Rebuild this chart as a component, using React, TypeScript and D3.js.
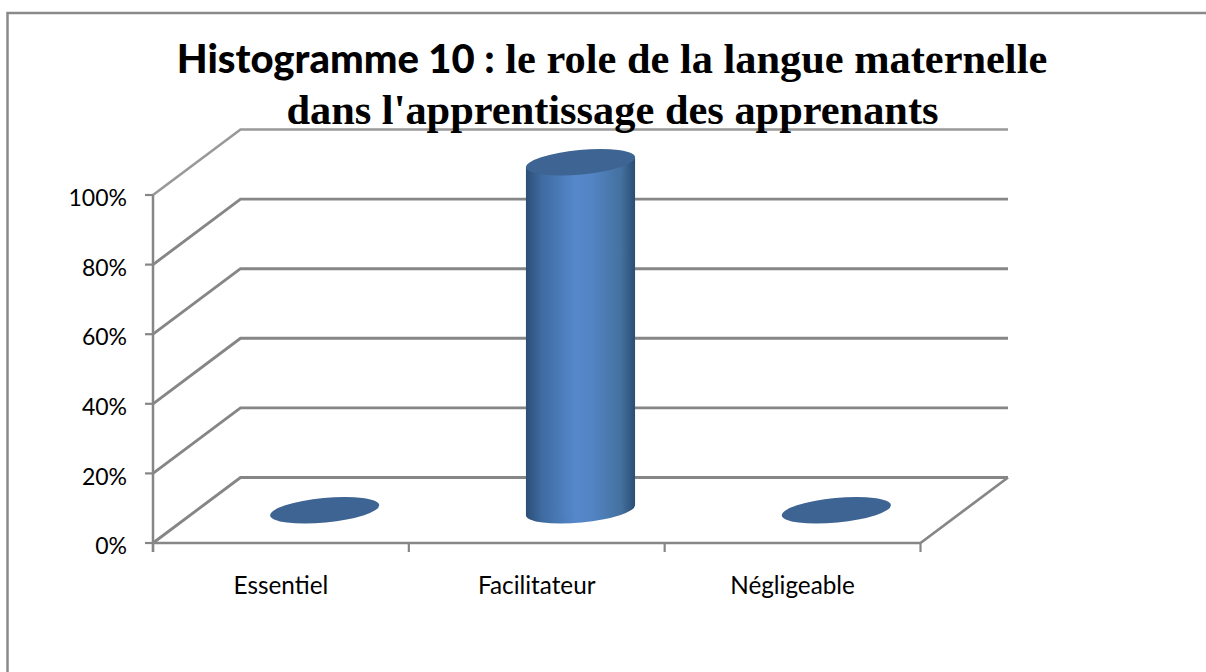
import React from "react";
import * as d3 from "d3";

const categories = ["Essentiel", "Facilitateur", "Négligeable"];
const values = [0, 100, 0];
const yTicks = [0, 20, 40, 60, 80, 100];
const titleLine1Sans = "Histogramme 10 :";
const titleLine1Serif = " le role de la langue maternelle";
const titleLine2 = "dans l'apprentissage des apprenants";

const W = 1206;
const H = 672;
const x0 = 153;
const x1 = 920.5;
const yBottom = 543;
const yTop = 195;
const depthX = 87.5;
const depthY = -65.5;
const GRID = "#868686";

const xScale = d3.scaleBand<string>().domain(categories).range([x0, x1]).paddingInner(0).paddingOuter(0);
const yScale = d3.scaleLinear().domain([0, 100]).range([yBottom, yTop]);
const xTicks = [...categories.map((c) => xScale(c) as number), x1];

const rx = 54.8;
const ry = 12.3;
const tilt = -5.5;
const rad = (tilt * Math.PI) / 180;
const halfW = Math.sqrt(rx * rx * Math.cos(rad) ** 2 + ry * ry * Math.sin(rad) ** 2);
const edgeDy = Math.abs(((rx * rx - ry * ry) * Math.sin(rad) * Math.cos(rad)) / halfW);

export default function App() {
  return (
    <svg width={W} height={H} viewBox={`0 0 ${W} ${H}`} style={{ position: "absolute", left: 0, top: 0, background: "#fff" }}>
      <defs>
        {categories.map((c, i) => {
          const cx = (xScale(c) as number) + xScale.bandwidth() / 2 + depthX / 2;
          return (
            <linearGradient key={c} id={`cyl${i}`} gradientUnits="userSpaceOnUse" x1={cx - rx} x2={cx + rx} y1={0} y2={0}>
              <stop offset="0" stopColor="#2b4d76" />
              <stop offset="0.14" stopColor="#3e6a9f" />
              <stop offset="0.45" stopColor="#5588cb" />
              <stop offset="0.6" stopColor="#5384c4" />
              <stop offset="0.87" stopColor="#44719f" />
              <stop offset="1" stopColor="#2a4c73" />
            </linearGradient>
          );
        })}
      </defs>

      {/* frame */}
      <path d={`M${W},13 H7.5 V${H}`} fill="none" stroke="#8a8a8a" strokeWidth={2.5} />

      {/* back gridlines and side walls */}
      {yTicks.map((t) => (
        <path
          key={t}
          d={`M${x0},${yScale(t)} L${x0 + depthX},${yScale(t) + depthY} H${x1 + depthX}`}
          fill="none"
          stroke={t === 100 ? "#999" : GRID}
          strokeWidth={t === 100 ? 2.6 : 2.9}
        />
      ))}
      {/* floor right edge */}
      <line x1={x1} y1={yBottom} x2={x1 + depthX} y2={yBottom + depthY} stroke={GRID} strokeWidth={2.7} />
      {/* axes */}
      <line x1={x0} y1={yTop} x2={x0} y2={yBottom + 9} stroke={GRID} strokeWidth={2.5} />
      <line x1={x0} y1={yBottom} x2={x1} y2={yBottom} stroke={GRID} strokeWidth={2.5} />
      {yTicks.map((t) => (
        <g key={t}>
          <line x1={x0 - 8} x2={x0} y1={yScale(t)} y2={yScale(t)} stroke={GRID} strokeWidth={2.2} />
          <text x={127} y={yScale(t) + 3} dy="0.36em" textAnchor="end" fontFamily="Lato" fontSize={23} fill="#000">
            {t}%
          </text>
        </g>
      ))}
      {xTicks.map((x) => (
        <line key={x} x1={x} x2={x} y1={yBottom} y2={yBottom + 9} stroke={GRID} strokeWidth={2.2} />
      ))}
      {categories.map((c) => (
        <text
          key={c}
          x={(xScale(c) as number) + xScale.bandwidth() / 2 + 0}
          y={594}
          textAnchor="middle"
          fontFamily="Lato"
          fontSize={24.3}
          fill="#000"
        >
          {c}
        </text>
      ))}

      {/* columns */}
      {categories.map((c, i) => {
        const cx = (xScale(c) as number) + xScale.bandwidth() / 2 + depthX / 2;
        const yb = yScale(0) + depthY / 2;
        const yt = yScale(values[i]) + depthY / 2;
        const h = yb - yt;
        const side = `M${cx - halfW},${yt + edgeDy} L${cx + halfW},${yt - edgeDy} L${cx + halfW},${yb - edgeDy} L${cx - halfW},${yb + edgeDy} Z`;
        return (
          <g key={c}>
            {h > 0 && (
              <>
                <ellipse cx={cx} cy={yb} rx={rx} ry={ry} transform={`rotate(${tilt} ${cx} ${yb})`} fill={`url(#cyl${i})`} />
                <path d={side} fill={`url(#cyl${i})`} />
              </>
            )}
            <ellipse cx={cx} cy={yt} rx={rx} ry={ry} transform={`rotate(${tilt} ${cx} ${yt})`} fill="#3d6492" />
          </g>
        );
      })}

      {/* title */}
      <text x={612} y={73} textAnchor="middle" fontWeight="bold" fill="#000">
        <tspan fontFamily="Lato" fontSize={40} fontWeight={900}>{titleLine1Sans}</tspan>
        <tspan fontFamily="Liberation Serif" fontSize={42.4}>{titleLine1Serif}</tspan>
      </text>
      <text x={612.5} y={124} textAnchor="middle" fontWeight="bold" fontFamily="Liberation Serif" fontSize={42.4} fill="#000">
        {titleLine2}
      </text>
    </svg>
  );
}
